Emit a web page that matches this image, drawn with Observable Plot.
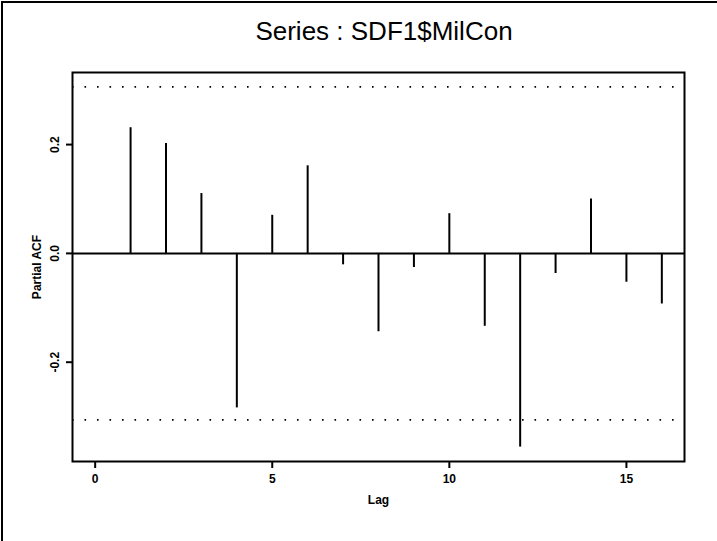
<!DOCTYPE html>
<html>
<head>
<meta charset="utf-8">
<script src="https://cdn.jsdelivr.net/npm/d3@7"></script>
<script src="https://cdn.jsdelivr.net/npm/@observablehq/plot@0.6"></script>
<style>
  html, body { margin: 0; padding: 0; background: #fff; }
  #wrap { position: relative; width: 717px; height: 541px; overflow: hidden; background: #fff; }
  #border { position: absolute; left: 1px; top: 1px; width: 716px; height: 540px;
            border-left: 2px solid #000; border-top: 2px solid #000; box-sizing: border-box; pointer-events: none; }
  #title { height: 50px; line-height: 62px; text-align: center; padding-left: 51px; box-sizing: border-box;
           font-family: "Liberation Sans", Arial, sans-serif; font-size: 26px; color: #000; }
  svg { display: block; }
</style>
</head>
<body>
<div id="wrap">
  <div id="title"></div>
  <div id="chart"></div>
  <div id="border"></div>
</div>
<script>
const titleText = "Series : SDF1$MilCon";
const lags = [1, 2, 3, 4, 5, 6, 7, 8, 9, 10, 11, 12, 13, 14, 15, 16];
const pacf = [0.231, 0.202, 0.110, -0.284, 0.070, 0.161, -0.021, -0.144, -0.026, 0.073, -0.134, -0.356, -0.037, 0.100, -0.053, -0.093];
const ciBounds = [0.306, -0.306];
const xTicks = [0, 5, 10, 15];
const yTicks = [-0.2, 0.0, 0.2];
const xLabel = "Lag";
const yLabel = "Partial ACF";

document.getElementById("title").textContent = titleText;

const data = lags.map((lag, i) => ({lag, value: pacf[i]}));

const chart = Plot.plot({
  width: 717,
  height: 491,
  marginLeft: 72,
  marginRight: 33,
  marginTop: 22,
  marginBottom: 80,
  style: { fontFamily: "'Liberation Sans Narrow', 'Liberation Sans', Arial, sans-serif", fontSize: "12px", fontWeight: "bold", color: "#000", background: "#fff" },
  x: { domain: [-0.64, 16.64] },
  y: { domain: [-0.3825, 0.3325] },
  marks: [
    Plot.ruleY(ciBounds, { stroke: "#000", strokeWidth: 1.6, strokeDasharray: "1.6,10.9" }),
    Plot.ruleY([0], { stroke: "#000", strokeWidth: 2 }),
    Plot.ruleX(data, { x: "lag", y1: 0, y2: "value", stroke: "#000", strokeWidth: 2 }),
    Plot.frame({ stroke: "#000", strokeWidth: 2 }),
    Plot.axisX(xTicks, { tickSize: 7, tickPadding: 6, tickFormat: d => String(d), strokeWidth: 2, fontSize: 12,
      label: xLabel, labelAnchor: "center", labelArrow: "none", labelOffset: 42 }),
    Plot.axisY(yTicks, { tickSize: 6, tickPadding: 8, tickFormat: d => d.toFixed(1), tickRotate: -90, strokeWidth: 2, fontSize: 12,
      label: yLabel, labelAnchor: "center", labelArrow: "none", labelOffset: 40 })
  ]
});
document.getElementById("chart").appendChild(chart);
</script>
</body>
</html>
